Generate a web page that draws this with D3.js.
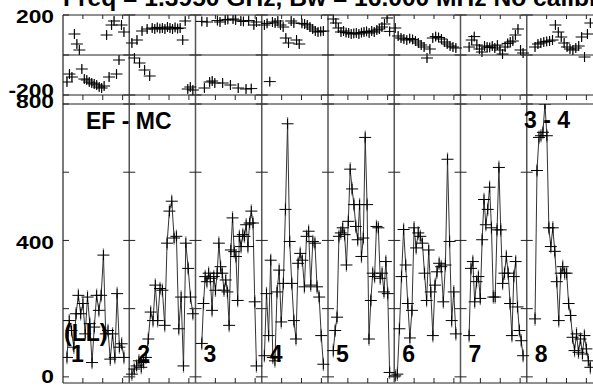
<!DOCTYPE html>
<html>
<head>
<meta charset="utf-8">
<script src="https://cdn.jsdelivr.net/npm/d3@7"></script>
<style>
body { margin: 0; background: #fff; }
svg { display: block; }
text { font-family: "Liberation Sans", Arial, sans-serif; font-weight: bold; fill: #000; }
</style>
</head>
<body>
<div id="chart"></div>
<script>
// scans (one per section) and the fraction of each scan covered by data
var scans = ["1", "2", "3", "4", "5", "6", "7", "8"];
var scanT0 = [0.06, 0.04, 0.095, 0.04, 0.08, 0.015, 0.13, 0.125];
var scanT1 = [0.92, 0.96, 0.92, 0.93, 0.93, 0.93, 0.945, 0.96];

// amplitude (Jy) per scan
var amp1 = [57,165,136,87,185,239,185,215,126,234,156,42,146,239,195,239,357,126,136,52,126,57,244,87,97,57];
var amp2 = [8,23,32,47,28,42,57,111,190,165,269,165,259,254,151,392,486,515,407,412,141,234,32,392,318,234,185];
var amp3 = [98,215,294,279,304,289,195,294,254,304,392,323,304,254,284,249,151,372,466,367,353,224,412,382,417,412,446,382,451,486,451,220,32];
var amp4 = [62,244,121,342,57,47,249,313,161,274,491,742,397,274,165,111,333,362,342,264,412,427,269,397,392,264,234,121,37];
var amp5 = [77,136,175,412,422,437,417,328,456,609,551,505,441,402,505,353,407,702,505,111,224,304,294,441,437,289,304,249,338,244,13];
var amp6 = [3,8,141,294,432,328,215,114,195,437,378,422,412,392,304,224,372,249,121,269,308,333,323,220,328,638,397,165,249,126];
var amp7 = [121,318,338,220,279,294,230,402,520,446,491,556,437,234,234,431,614,431,274,304,353,304,215,121,294,338,205,136,106,62];
var amp8 = [170,605,702,707,717,800,707,437,382,437,368,279,165,304,323,304,304,215,180,116,77,126,72,111,67,121,82,47,28];

// phase (deg) per scan
var ph1 = [-135,-95,-110,105,55,25,-70,-120,-125,-135,-140,-145,-150,-160,-165,-155,100,-110,150,170,-95,-25,150,115];
var ph2 = [60,-15,75,-40,120,-75,130,-105,135,130,138,132,135,130,140,135,130,138,132,135,75,170,-170,-160,-175];
var ph3 = [168,-165,165,-135,-130,-140,172,165,-140,175,178,-150,180,175,-165,170,168,-170,172,-168,150,165];
var ph4 = [150,158,-133,165,160,170,150,140,85,60,170,160,75,55,158,155,150,140,130,120,115,118,120];
var ph5 = [180,160,135,115,120,112,110,105,108,110,105,112,115,118,110,120,115,125,130,140,155,185,118];
var ph6 = [135,95,85,80,75,82,78,70,60,50,40,-15,30,85,92,88,80,65,55,45,40,35];
var ph7 = [40,75,92,50,30,15,45,40,38,45,35,50,25,5,40,58,65,70,100,130,25,10];
var ph8 = [40,55,60,65,68,70,75,150,115,90,60,40,30,25,35,45,90,-10,105,160];

var ampErr = 20, phaseErr = 22;
var ampTicks = [0, 400, 800];
var ampMinor = [0, 200, 400, 600, 800];
var phaseTicks = [-200, 200];
var phaseMinor = [-200, 0, 200];
var timeTicks = [0.3, 0.6, 0.9];

var title = "Freq = 1.3950 GHz, Bw = 16.000 MHz   No calibration";
var baseline = "EF - MC", baseline2 = "3 - 4", pol = "(LL)";

var ampData = [amp1, amp2, amp3, amp4, amp5, amp6, amp7, amp8];
var phData = [ph1, ph2, ph3, ph4, ph5, ph6, ph7, ph8];

var W = 593, H = 387;
var svg = d3.select("#chart").append("svg").attr("width", W).attr("height", H);

var x = d3.scaleLinear().domain([0, scans.length]).range([63, 593]);
var yPh = d3.scaleLinear().domain([-200, 200]).range([95, 15]);
var yAmp = d3.scaleLinear().domain([-18, 800]).range([383, 104]);

function points(arr, i) {
	var n = arr.length;
	return arr.map(function(v, j) {
		return {t: i + scanT0[i] + (scanT1[i] - scanT0[i]) * j / (n - 1), v: v};
	});
}

// clip paths
var defs = svg.append("defs");
defs.append("clipPath").attr("id", "clipPh").append("rect")
	.attr("x", x(0)).attr("y", yPh(200)).attr("width", x(8) - x(0)).attr("height", yPh(-200) - yPh(200));
defs.append("clipPath").attr("id", "clipAmp").append("rect")
	.attr("x", x(0)).attr("y", yAmp(800)).attr("width", x(8) - x(0)).attr("height", yAmp(-18) - yAmp(800));

var frame = "#222";

// panel frames
[yPh(200), yPh(0), yPh(-200), yAmp(800), yAmp(-18)].forEach(function(yy) {
	svg.append("line").attr("x1", x(0)).attr("x2", x(8)).attr("y1", yy).attr("y2", yy)
		.attr("stroke", frame).attr("stroke-width", 1.2);
});

// section dividers + left axis
var divs = d3.range(0, scans.length);
svg.append("g").selectAll("line").data(divs).enter().append("line")
	.attr("x1", d => x(d)).attr("x2", d => x(d))
	.attr("y1", yPh(200)).attr("y2", yAmp(-18))
	.attr("stroke", d => d === 0 ? frame : "#555")
	.attr("stroke-width", d => d === 0 ? 1.2 : 1.5);

// y ticks on the dividers
var tickG = svg.append("g").attr("stroke", frame).attr("stroke-width", 1);
divs.forEach(function(d) {
	var x0 = d === 0 ? x(d) : x(d) - 6;
	ampMinor.forEach(function(v) {
		tickG.append("line").attr("x1", x0).attr("x2", x(d) + 6).attr("y1", yAmp(v)).attr("y2", yAmp(v));
	});
	phaseMinor.forEach(function(v) {
		tickG.append("line").attr("x1", x0).attr("x2", x(d) + 6).attr("y1", yPh(v)).attr("y2", yPh(v));
	});
});

// time ticks inside each scan
divs.forEach(function(d) {
	timeTicks.forEach(function(t) {
		var xx = x(d + t);
		tickG.append("line").attr("x1", xx).attr("x2", xx).attr("y1", yPh(-200)).attr("y2", yPh(-200) + 5);
		tickG.append("line").attr("x1", xx).attr("x2", xx).attr("y1", yAmp(-18)).attr("y2", yAmp(-18) - 5);
		tickG.append("line").attr("x1", xx).attr("x2", xx).attr("y1", yPh(200)).attr("y2", yPh(200) + 4);
	});
});

var plus = "M-6,0H6M0,-5V5";

// phase panel
var gPh = svg.append("g").attr("clip-path", "url(#clipPh)");
phData.forEach(function(arr, i) {
	var pts = points(arr, i);
	gPh.append("g").selectAll("line").data(pts).enter().append("line")
		.attr("x1", d => x(d.t)).attr("x2", d => x(d.t))
		.attr("y1", d => yPh(d.v - phaseErr)).attr("y2", d => yPh(d.v + phaseErr))
		.attr("stroke", "#888").attr("stroke-width", 1.3);
	gPh.append("g").selectAll("path").data(pts).enter().append("path")
		.attr("d", plus)
		.attr("transform", d => "translate(" + x(d.t) + "," + yPh(d.v) + ")")
		.attr("stroke", "#000").attr("stroke-width", 1).attr("fill", "none");
});

// amplitude panel
var gAmp = svg.append("g").attr("clip-path", "url(#clipAmp)");
var line = d3.line().x(d => x(d.t)).y(d => yAmp(d.v));
ampData.forEach(function(arr, i) {
	var pts = points(arr, i);
	gAmp.append("g").selectAll("line").data(pts).enter().append("line")
		.attr("x1", d => x(d.t)).attr("x2", d => x(d.t))
		.attr("y1", d => yAmp(d.v - ampErr)).attr("y2", d => yAmp(d.v + ampErr))
		.attr("stroke", "#888").attr("stroke-width", 1.3);
	gAmp.append("path").datum(pts).attr("d", line)
		.attr("fill", "none").attr("stroke", "#333").attr("stroke-width", 1);
	gAmp.append("g").selectAll("path").data(pts).enter().append("path")
		.attr("d", plus)
		.attr("transform", d => "translate(" + x(d.t) + "," + yAmp(d.v) + ")")
		.attr("stroke", "#000").attr("stroke-width", 1).attr("fill", "none");
});

// y tick labels (wide bold face, like the plotting package)
function tickLabel(v, yy) {
	svg.append("text")
		.attr("transform", "translate(54," + yy + ") scale(1.2,1)")
		.attr("font-size", 19).attr("text-anchor", "end").text(v);
}
tickLabel(200, yPh(200) + 8);
tickLabel(-200, yPh(-200) + 2);
tickLabel(800, yAmp(800) + 4);
tickLabel(400, yAmp(400) + 9);
tickLabel(0, yAmp(0) + 6);

// scan numbers
svg.append("g").selectAll("text").data(scans).enter().append("text")
	.attr("x", (d, i) => x(i) + 8).attr("y", 362)
	.attr("font-size", 23).text(d => d);

// labels
svg.append("text").attr("x", 86).attr("y", 129).attr("font-size", 23).text(baseline);
svg.append("text").attr("x", 570).attr("y", 128).attr("font-size", 23).attr("text-anchor", "end").text(baseline2);
svg.append("text").attr("x", 64).attr("y", 341).attr("font-size", 23).text(pol);

// title (clipped by the window top)
svg.append("text").attr("transform", "translate(63,6) scale(1.07,1)").attr("font-size", 23).text(title);
</script>
</body>
</html>
